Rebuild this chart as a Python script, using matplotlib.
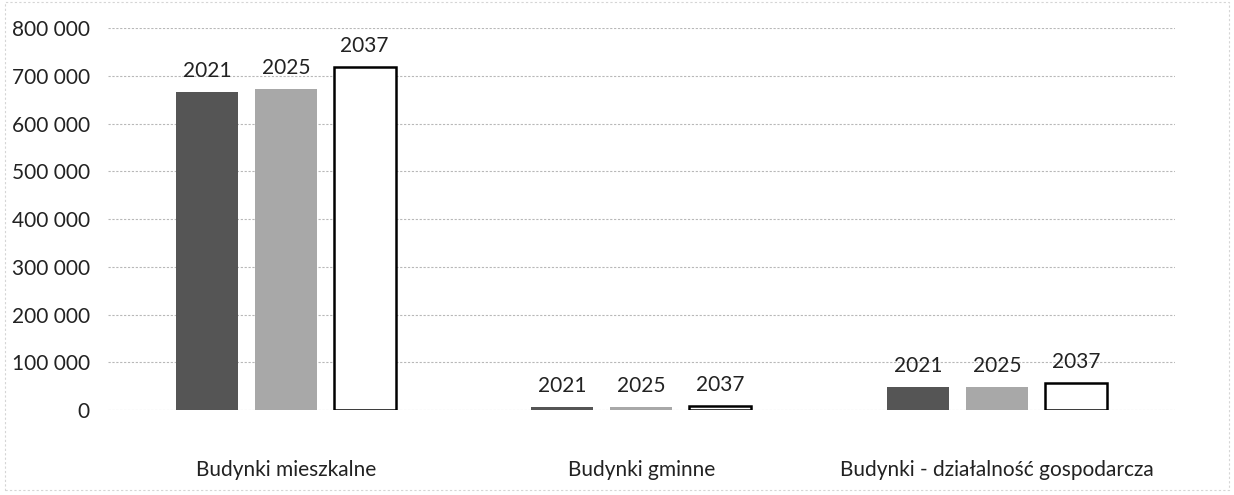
import matplotlib.pyplot as plt
import numpy as np
from matplotlib.ticker import FuncFormatter

# dane
kategorie = ['Budynki mieszkalne', 'Budynki gminne', 'Budynki - działalność gospodarcza']
lata = ['2021', '2025', '2037']
wartosci_2021 = [666000, 7000, 48000]
wartosci_2025 = [672000, 7000, 49000]
wartosci_2037 = [718000, 8000, 56000]
yticki = [0, 100000, 200000, 300000, 400000, 500000, 600000, 700000, 800000]

plt.rcParams['font.family'] = ['Lato', 'DejaVu Sans']

fig = plt.figure(figsize=(12.34, 4.95), dpi=100)
ax = fig.add_axes([0.0875, 0.1717, 0.8645, 0.7717])

x = np.arange(len(kategorie))
szer = 0.174
krok = 0.222
style = [
    dict(color='#555555', edgecolor='#555555', linewidth=0),
    dict(color='#a8a8a8', edgecolor='#a8a8a8', linewidth=0),
    dict(color='white', edgecolor='black', linewidth=1.8),
]
serie = [wartosci_2021, wartosci_2025, wartosci_2037]

for i, (rok, vals, st) in enumerate(zip(lata, serie, style)):
    bars = ax.bar(x + (i - 1) * krok, vals, width=szer, zorder=3, **st)
    for b in bars:
        ax.annotate(rok, (b.get_x() + b.get_width() / 2, b.get_height()),
                    xytext=(0, 8), textcoords='offset points',
                    ha='center', va='bottom', fontsize=15, color='#222222')

ax.set_xlim(-0.5, 2.5)
ax.set_ylim(0, 800000)
ax.set_yticks(yticki)
ax.yaxis.set_major_formatter(FuncFormatter(lambda v, p: f'{int(v):,}'.replace(',', ' ')))
ax.set_xticks(x)
ax.set_xticklabels(kategorie)
ax.tick_params(axis='both', length=0, labelsize=15, colors='#222222')
ax.tick_params(axis='x', pad=36)
ax.tick_params(axis='y', pad=13)
ax.grid(axis='y', color='#b8b8b8', linestyle=(0, (2, 1.5)), linewidth=0.8, zorder=0)
for s in ax.spines.values():
    s.set_visible(False)

# ramka wykresu
fig.patches.append(plt.Rectangle((0.004, 0.01), 0.992, 0.985, transform=fig.transFigure,
                                 fill=False, edgecolor='#d5d5d5', linewidth=0.8,
                                 linestyle=(0, (2, 2))))

fig.savefig('out.png', dpi=100)
